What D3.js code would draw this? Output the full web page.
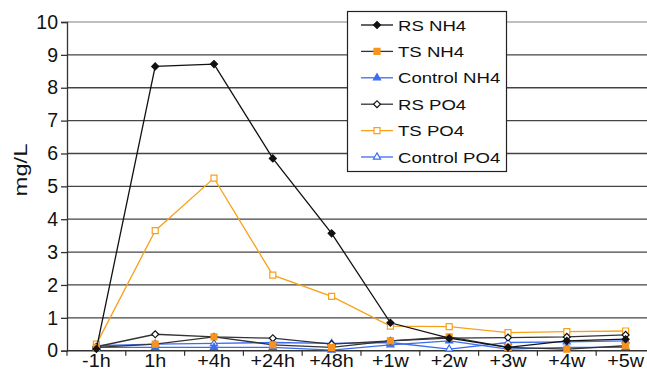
<!DOCTYPE html>
<html>
<head>
<meta charset="utf-8">
<script src="https://cdn.jsdelivr.net/npm/d3@7"></script>
<style>
  html, body { margin: 0; padding: 0; background: #fff; }
  svg { display: block; font-family: "Liberation Sans", Arial, sans-serif; }
</style>
</head>
<body>
<svg id="chart" width="647" height="371"></svg>
<script>
// Sampling times
const categories = ["-1h", "1h", "+4h", "+24h", "+48h", "+1w", "+2w", "+3w", "+4w", "+5w"];
const yTicks = [0, 1, 2, 3, 4, 5, 6, 7, 8, 9, 10];

// Concentrations (mg/L)
const rsNH4      = [0.05, 8.65, 8.72, 5.85, 3.57, 0.85, 0.38, 0.10, 0.30, 0.35];
const tsNH4      = [0.10, 0.20, 0.42, 0.18, 0.10, 0.30, 0.42, 0.10, 0.05, 0.15];
const controlNH4 = [0.10, 0.10, 0.10, 0.10, 0.02, 0.18, 0.30, 0.05, 0.10, 0.10];
const rsPO4      = [0.12, 0.50, 0.42, 0.38, 0.20, 0.30, 0.38, 0.40, 0.42, 0.48];
const tsPO4      = [0.20, 3.65, 5.25, 2.30, 1.65, 0.75, 0.73, 0.55, 0.58, 0.60];
const controlPO4 = [0.15, 0.20, 0.22, 0.25, 0.22, 0.25, 0.05, 0.25, 0.27, 0.30];

const series = [
  { name: "RS NH4",      values: rsNH4,      line: "#111", marker: "diamond",  fill: "#111", stroke: "#111" },
  { name: "TS NH4",      values: tsNH4,      line: "#333", marker: "square",   fill: "#f7941d", stroke: "#f7941d" },
  { name: "Control NH4", values: controlNH4, line: "#3a6df0", marker: "triangle", fill: "#3a6df0", stroke: "#3a6df0" },
  { name: "RS PO4",      values: rsPO4,      line: "#333", marker: "diamond",  fill: "#fff", stroke: "#111" },
  { name: "TS PO4",      values: tsPO4,      line: "#f7a11a", marker: "square",   fill: "#fff", stroke: "#f7a11a" },
  { name: "Control PO4", values: controlPO4, line: "#3a6df0", marker: "triangle", fill: "#fff", stroke: "#3a6df0" }
];

const svg = d3.select("#chart");
const plot = { left: 67, right: 655, top: 22, bottom: 350.7 };

const x = d3.scaleBand().domain(categories).range([plot.left, plot.right]);
const y = d3.scaleLinear().domain([0, 10]).range([plot.bottom, plot.top]);
const cx = d => x(d) + x.bandwidth() / 2;

// Horizontal gridlines
svg.append("g").selectAll("line").data(yTicks.filter(t => t > 0)).join("line")
  .attr("x1", plot.left).attr("x2", 647)
  .attr("y1", d => y(d)).attr("y2", d => y(d))
  .attr("stroke", d => d === 10 ? "#aaa" : "#444")
  .attr("stroke-width", 1.3);

// Y axis
const yAxis = d3.axisLeft(y).tickValues(yTicks).tickSize(6).tickPadding(3).tickFormat(d3.format("d"));
const gy = svg.append("g").attr("transform", `translate(${plot.left},0)`).call(yAxis);
gy.select(".domain").attr("stroke", "#333").attr("stroke-width", 1.3);
gy.selectAll(".tick line").attr("stroke", "#333").attr("stroke-width", 1.3);
gy.selectAll(".tick text").attr("font-size", 19.5).attr("fill", "#111")
  .attr("font-family", "Liberation Sans, Arial, sans-serif");

// X axis baseline and ticks at band edges
svg.append("line")
  .attr("x1", plot.left).attr("x2", 647)
  .attr("y1", plot.bottom).attr("y2", plot.bottom)
  .attr("stroke", "#333").attr("stroke-width", 1.5);
svg.append("g").selectAll("line").data(categories).join("line")
  .attr("x1", d => x(d)).attr("x2", d => x(d))
  .attr("y1", plot.bottom).attr("y2", plot.bottom + 5)
  .attr("stroke", "#333").attr("stroke-width", 1.2);
svg.append("g").selectAll("text").data(categories).join("text")
  .attr("transform", d => `translate(${cx(d)},367) scale(1.1,1)`)
  .attr("text-anchor", "middle")
  .attr("font-size", 18).attr("fill", "#111")
  .text(d => d);

// Y axis title
svg.append("text")
  .attr("transform", "translate(27,170) rotate(-90) scale(1.25,1)")
  .attr("text-anchor", "middle")
  .attr("font-size", 19).attr("fill", "#111")
  .text("mg/L");

// Marker shapes
const symbolType = { diamond: d3.symbolSquare, square: d3.symbolSquare, triangle: d3.symbolTriangle };
const symbolSize = { diamond: 24, square: 36, triangle: 22 };
const symbolRotate = { diamond: 45, square: 0, triangle: 0 };
function drawMarker(g, s, px, py) {
  g.append("path")
    .attr("d", d3.symbol().type(symbolType[s.marker]).size(symbolSize[s.marker])())
    .attr("transform", `translate(${px},${py}) rotate(${symbolRotate[s.marker]})`)
    .attr("fill", s.fill)
    .attr("stroke", s.stroke)
    .attr("stroke-width", 1.2);
}

const line = d3.line().x((d, i) => cx(categories[i])).y(d => y(d));

// Lines, bottom-most layer first
const drawOrder = [5, 2, 4, 3, 1, 0];
drawOrder.forEach(k => {
  const s = series[k];
  const g = svg.append("g");
  g.append("path").datum(s.values)
    .attr("d", line)
    .attr("fill", "none")
    .attr("stroke", s.line)
    .attr("stroke-width", 1.3);
  s.values.forEach((v, i) => drawMarker(g, s, cx(categories[i]), y(v)));
});

// Legend
const legend = svg.append("g");
legend.append("rect")
  .attr("x", 347.5).attr("y", 11.5).attr("width", 159).attr("height", 160)
  .attr("fill", "#fff").attr("stroke", "#222").attr("stroke-width", 1.2);
series.forEach((s, i) => {
  const ly = 25 + i * 26.4;
  const g = legend.append("g");
  g.append("line")
    .attr("x1", 361).attr("x2", 393).attr("y1", ly).attr("y2", ly)
    .attr("stroke", s.line).attr("stroke-width", 1.3);
  drawMarker(g, s, 377, ly);
  g.append("text")
    .attr("transform", `translate(398,${ly + 5.5}) scale(1.2,1)`)
    .attr("font-size", 15.5).attr("fill", "#111")
    .text(s.name);
});
</script>
</body>
</html>
